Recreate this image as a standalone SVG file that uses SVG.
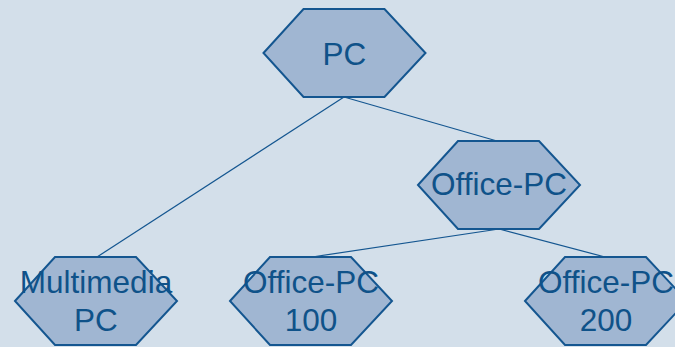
<svg xmlns="http://www.w3.org/2000/svg" width="675" height="347" viewBox="0 0 675 347">
  <defs>
    <!-- hexagon 162 x 88, centred on the origin -->
    <polygon id="hex" points="-81,0 -41,-44 40,-44 81,0 40,44 -41,44"/>
  </defs>
  <style>
    .node use { fill: #a0b6d2; stroke: #145690; stroke-width: 2; stroke-linejoin: miter; }
    .node text { font-family: "Liberation Sans", Arial, sans-serif; font-size: 31.5px; fill: #0f5289; text-anchor: middle; }
    .edges line { stroke: #145690; stroke-width: 1.2; }
  </style>
  <rect width="675" height="347" fill="#d3dfea"/>

  <g class="edges">
    <line x1="344" y1="97" x2="97" y2="257"/>
    <line x1="344" y1="97" x2="497" y2="141"/>
    <line x1="499" y1="229" x2="312" y2="257"/>
    <line x1="499" y1="229" x2="605" y2="257"/>
  </g>

  <g id="pc" class="node">
    <use href="#hex" x="344.5" y="53"/>
    <text x="344.5" y="65">PC</text>
  </g>

  <g id="office-pc" class="node">
    <use href="#hex" x="499" y="185"/>
    <text x="499" y="195">Office-PC</text>
  </g>

  <g id="multimedia-pc" class="node">
    <use href="#hex" x="96" y="301"/>
    <text x="96" y="293">Multimedia</text>
    <text x="96" y="331">PC</text>
  </g>

  <g id="office-pc-100" class="node">
    <use href="#hex" x="311" y="301"/>
    <text x="311" y="293">Office-PC</text>
    <text x="311" y="331">100</text>
  </g>

  <g id="office-pc-200" class="node">
    <use href="#hex" x="606" y="301"/>
    <text x="606" y="293">Office-PC</text>
    <text x="606" y="331">200</text>
  </g>
</svg>
